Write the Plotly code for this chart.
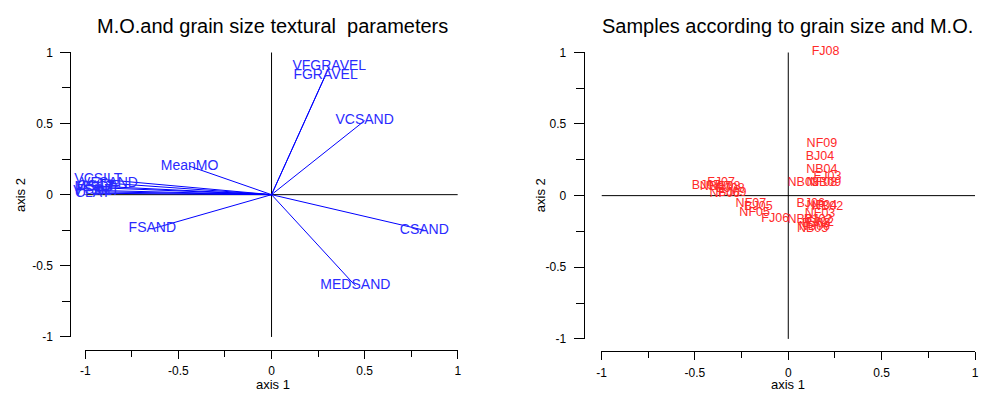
import plotly.graph_objects as go

# Variable loadings (correlation circle, axes 1-2)
variables = ["VFGRAVEL", "FGRAVEL", "VCSAND", "CSAND", "MEDSAND", "FSAND",
             "VFSAND", "VCSILT", "CSILT", "MSILT", "FSILT", "VFSILT", "CLAY", "MeanMO"]
var_ax1 = [0.31, 0.29, 0.50, 0.82, 0.45, -0.64,
           -0.87, -0.93, -0.94, -0.95, -0.95, -0.94, -0.96, -0.44]
var_ax2 = [0.90, 0.84, 0.52, -0.25, -0.64, -0.24,
           0.08, 0.11, 0.06, 0.05, 0.03, 0.02, 0.01, 0.20]

# Sample scores on axes 1-2
samples = ["FJ08", "NF09", "BJ04", "NB04", "FJ03", "NB03", "NF08", "NB09",
           "FJ07", "BJ07", "NB07", "NB08", "BJ08", "NF06", "BJ09",
           "NF07", "BJ05", "NF05", "FJ06",
           "BJ06", "NF04", "NB02", "NF03", "NB01", "BJ02", "FJ02", "BJ03", "NB06", "NB05"]
smp_ax1 = [0.20, 0.18, 0.17, 0.18, 0.21, 0.08, 0.18, 0.20,
           -0.36, -0.44, -0.39, -0.34, -0.31, -0.34, -0.30,
           -0.20, -0.16, -0.18, -0.07,
           0.12, 0.18, 0.21, 0.17, 0.08, 0.16, 0.17, 0.15, 0.14, 0.13]
smp_ax2 = [1.00, 0.36, 0.27, 0.18, 0.13, 0.09, 0.09, 0.09,
           0.09, 0.07, 0.06, 0.06, 0.05, 0.01, 0.02,
           -0.06, -0.08, -0.12, -0.16,
           -0.06, -0.07, -0.08, -0.13, -0.17, -0.17, -0.19, -0.20, -0.22, -0.23]

ticks_major = [-1, -0.5, 0, 0.5, 1]
tick_text = ["-1", "-0.5", "0", "0.5", "1"]

FONT = "Liberation Sans, Arial, sans-serif"
W, H = 985, 398

fig = go.Figure()

# Cross through the origin, drawn in each panel
for xa, ya in (("x", "y"), ("x2", "y2")):
    fig.add_trace(go.Scatter(x=[-1, 1, None, 0, 0], y=[0, 0, None, -1, 1],
                             mode="lines", line=dict(color="black", width=1),
                             xaxis=xa, yaxis=ya, hoverinfo="skip", showlegend=False,
                             cliponaxis=False))

# Arrows from the origin to each variable
arrow_x, arrow_y = [], []
for a, b in zip(var_ax1, var_ax2):
    arrow_x += [0, a, None]
    arrow_y += [0, b, None]
fig.add_trace(go.Scatter(x=arrow_x, y=arrow_y, mode="lines",
                         line=dict(color="#0000ff", width=1),
                         xaxis="x", yaxis="y", hoverinfo="skip", showlegend=False))
fig.add_trace(go.Scatter(x=var_ax1, y=var_ax2, mode="text", text=variables,
                         textposition="middle center", cliponaxis=False,
                         textfont=dict(family=FONT, size=14, color="#2a2aff"),
                         xaxis="x", yaxis="y", showlegend=False))

# Sample labels
fig.add_trace(go.Scatter(x=smp_ax1, y=smp_ax2, mode="text", text=samples,
                         textposition="middle center", cliponaxis=False,
                         textfont=dict(family=FONT, size=12.5, color="#ff2a2a"),
                         xaxis="x2", yaxis="y2", showlegend=False))

def axis_cfg(domain, pos, ticklen=8, standoff=2):
    return dict(domain=domain, range=[-1, 1], anchor="free", position=pos,
                showline=True, linecolor="black", linewidth=1,
                ticks="outside", ticklen=ticklen, tickcolor="black",
                ticklabelstandoff=standoff,
                tickmode="array", tickvals=ticks_major, ticktext=tick_text,
                minor=dict(dtick=0.25, tick0=0, ticks="outside",
                           ticklen=ticklen - 2, tickcolor="black"),
                showgrid=False, zeroline=False,
                tickfont=dict(family=FONT, size=12, color="black"))

def note(text, px, py, size, angle=0):
    return dict(text=text, x=px / W, y=(H - py) / H, xref="paper", yref="paper",
                xanchor="center", yanchor="middle", showarrow=False,
                textangle=angle, font=dict(family=FONT, size=size, color="black"))

fig.update_layout(
    width=W, height=H,
    margin=dict(l=0, r=0, t=0, b=0),
    paper_bgcolor="white", plot_bgcolor="white",
    font=dict(family=FONT, color="black"),
    xaxis=axis_cfg([81 / W, 457 / W], (H - 355) / H),
    yaxis=axis_cfg([(H - 342) / H, (H - 47) / H], 66 / W, ticklen=10, standoff=5),
    xaxis2=axis_cfg([602 / W, 979 / W], (H - 357) / H),
    yaxis2=axis_cfg([(H - 344) / H, (H - 47) / H], 584 / W, ticklen=10, standoff=5),
    annotations=[
        note("M.O.and grain size textural&nbsp; parameters", 270, 20, 20),
        note("Samples according to grain size and M.O.", 790, 20, 20),
        note("axis 1", 270, 391, 13),
        note("axis 1", 790, 391, 13),
        note("axis 2", 15, 195, 13, -90),
        note("axis 2", 540, 195, 13, -90),
    ],
)

fig.write_html("out.html")
